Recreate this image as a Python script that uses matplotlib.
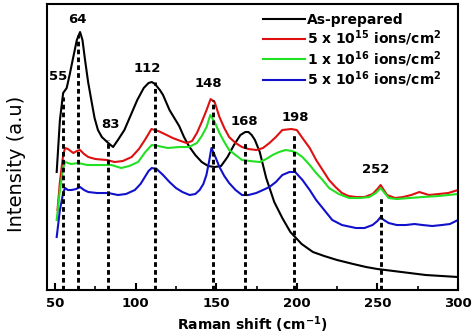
import matplotlib
matplotlib.use('Agg')
import matplotlib.pyplot as plt
from matplotlib.ticker import MultipleLocator, NullLocator

plt.rcParams['font.family'] = 'DejaVu Sans'
plt.rcParams['mathtext.fontset'] = 'custom'
plt.rcParams['mathtext.rm'] = 'DejaVu Sans:bold'
plt.rcParams['mathtext.it'] = 'DejaVu Sans:bold'
plt.rcParams['mathtext.bf'] = 'DejaVu Sans:bold'
plt.rcParams['mathtext.default'] = 'rm'

# As-prepared
x_black = [51, 53, 55, 57.2, 59, 61.3, 63.5, 65.5, 67, 68.6, 70.5, 72.7, 74.5, 76.6,
           79, 81, 83, 86, 89, 93, 97, 101, 105, 108, 110, 112, 115, 117, 121, 124,
           127, 130, 133, 137, 141, 145, 149, 153, 157, 161, 165, 168, 170, 172, 174,
           177, 181, 186, 191, 196, 203, 210, 217, 225, 235, 243, 250, 260, 270, 280,
           290, 300]
y_black = [118, 170, 197, 202, 215, 233, 250, 258, 250, 230, 208, 188, 172, 160,
           153, 150, 147, 143, 150, 160, 175, 190, 202, 207, 208, 206, 200, 195, 180, 172,
           164, 153, 144, 135, 128, 124, 123, 124, 133, 145, 155, 158, 158, 155, 150,
           138, 112, 88, 72, 58, 46, 38, 34, 30, 26, 23, 21, 19, 17, 15,
           14, 13]

# 5 x 10^15 ions/cm^2
x_red = [51.5, 53, 55, 56.2, 58, 61.3, 63.5, 65.5, 68, 70.6, 75, 82, 87, 92, 97.5,
         102, 105.7, 109.8, 114, 118, 123, 128, 131.6, 135, 138, 141, 144, 146.5, 149,
         152, 155, 158, 162, 166, 170, 175, 179, 183, 187, 191, 196.5, 200, 203.5,
         208, 212, 216, 220, 224, 228, 232, 236.7, 242, 247, 250, 252, 254, 256, 261,
         266, 271, 276, 282, 288, 294, 300]
y_red = [80, 108, 135, 142, 141, 137, 139, 140, 136, 133, 131, 130, 128, 129, 133,
         141, 150, 161, 159, 156, 152, 149, 147, 149, 157, 168, 180, 191, 188,
         173, 162, 153, 147, 143, 141, 140, 142, 147, 153, 160, 161, 160, 152,
         142, 130, 120, 110, 103, 97, 94, 93, 93, 96, 101, 105, 100, 95, 92,
         93, 95, 98, 95, 96, 97, 100]

# 1 x 10^16 ions/cm^2
x_green = [51, 53, 55, 56.2, 60, 64.4, 70, 75, 80, 85, 91, 96, 101.5, 106, 110, 114,
           120, 127, 133, 138, 141, 144, 146.3, 149, 152, 155, 158, 162, 166, 171, 177,
           181, 185, 189, 193, 197, 200, 203.5, 208, 212, 216, 220, 226, 232.5, 239,
           245, 249, 252, 255, 257, 262, 270, 278, 288, 300]
y_green = [70, 100, 122, 128, 126, 127, 125, 125, 125, 125, 122, 124, 128, 138, 145, 144,
           142, 143, 143, 147, 154, 163, 175, 168, 157, 148, 140, 135, 130, 129, 128,
           131, 135, 138, 140, 139, 137, 133, 125, 117, 110, 102, 96, 92, 92,
           93, 97, 102, 96, 92, 91, 92, 93, 94, 96]

# 5 x 10^16 ions/cm^2
x_blue = [51, 53, 55, 56.2, 58, 60.3, 63, 65.5, 68, 70.6, 76, 83, 89, 94, 99.5, 103,
          105.7, 108, 110, 113, 117, 121, 125, 129, 133.5, 137, 139.7, 142, 143.9, 145.5,
          147, 149, 152, 155, 158, 162, 166, 170, 174.8, 179, 183, 187, 191, 195.4, 199,
          203.5, 208, 212, 217, 222, 228, 236.7, 242, 247, 250, 252, 254, 257, 262,
          267.6, 273, 278, 284, 290, 295, 300]
y_blue = [53, 80, 97, 102, 100, 100, 101, 103, 100, 98, 97, 97, 95, 96, 100, 106,
          113, 119, 122, 121, 115, 108, 102, 98, 95, 96, 100, 106, 115, 128,
          142, 135, 123, 114, 107, 100, 95, 95, 97, 100, 103, 108, 115, 118, 118,
          110, 100, 90, 80, 70, 65, 62, 62, 65, 69, 73, 70, 67, 65,
          65, 66, 65, 64, 65, 66, 70]

labels = ['As-prepared', r'5 x 10$^{15}$ ions/cm$^{2}$',
          r'1 x 10$^{16}$ ions/cm$^{2}$', r'5 x 10$^{16}$ ions/cm$^{2}$']
colors = ['black', '#dd1111', '#22e022', '#1111cc']

# peak markers and the height each dashed guide reaches
peaks = [55, 64, 83, 112, 148, 168, 198, 252]
peak_tops = [193, 255, 150, 208, 190, 147, 157, 93]
label_x = [51.8, 63.6, 84.6, 107, 145, 167.5, 199, 249]
label_y = [214, 271, 166, 222, 207, 169, 173, 121]

fig = plt.figure(figsize=(4.74, 3.35), dpi=100)
ax = fig.add_axes([0.0992, 0.1343, 0.8670, 0.8537])

series = [(x_black, y_black), (x_red, y_red), (x_green, y_green), (x_blue, y_blue)]
for (xs, ys), lab, c in zip(series, labels, colors):
  ax.plot(xs, ys, color=c, lw=1.5, label=lab)

for p, top in zip(peaks, peak_tops):
  ax.plot([p, p], [0, top], color='black', lw=2.1, linestyle=(0, (1.6, 1.1)), zorder=5)

for p, lx, ly in zip(peaks, label_x, label_y):
  ax.text(lx, ly, str(p), ha='center', va='center', fontsize=9.5, fontweight='bold')

ax.set_xlim(45, 300)
ax.set_ylim(0, 286)
ax.xaxis.set_major_locator(MultipleLocator(50))
ax.xaxis.set_minor_locator(MultipleLocator(25))
ax.yaxis.set_major_locator(NullLocator())
ax.tick_params(axis='x', which='major', direction='in', length=5, width=1.5, pad=5,
               labelsize=9.5)
ax.tick_params(axis='x', which='minor', direction='in', length=3, width=1.2)
for lbl in ax.get_xticklabels():
  lbl.set_fontweight('bold')
for s in ax.spines.values():
  s.set_linewidth(1.5)

ax.set_xlabel(r'Raman shift (cm$^{-1}$)', fontsize=10, fontweight='bold', labelpad=3)
ax.set_ylabel('Intensity (a.u)', fontsize=14)
ax.yaxis.set_label_coords(-0.05, 0.442)

ax.legend(loc='upper left', bbox_to_anchor=(0.5255, 0.968), frameon=False,
          prop={'size': 10, 'weight': 'bold'}, handlelength=3.0, handletextpad=0.2,
          labelspacing=0.08, borderpad=0, borderaxespad=0)

fig.savefig('out.png', dpi=100)
